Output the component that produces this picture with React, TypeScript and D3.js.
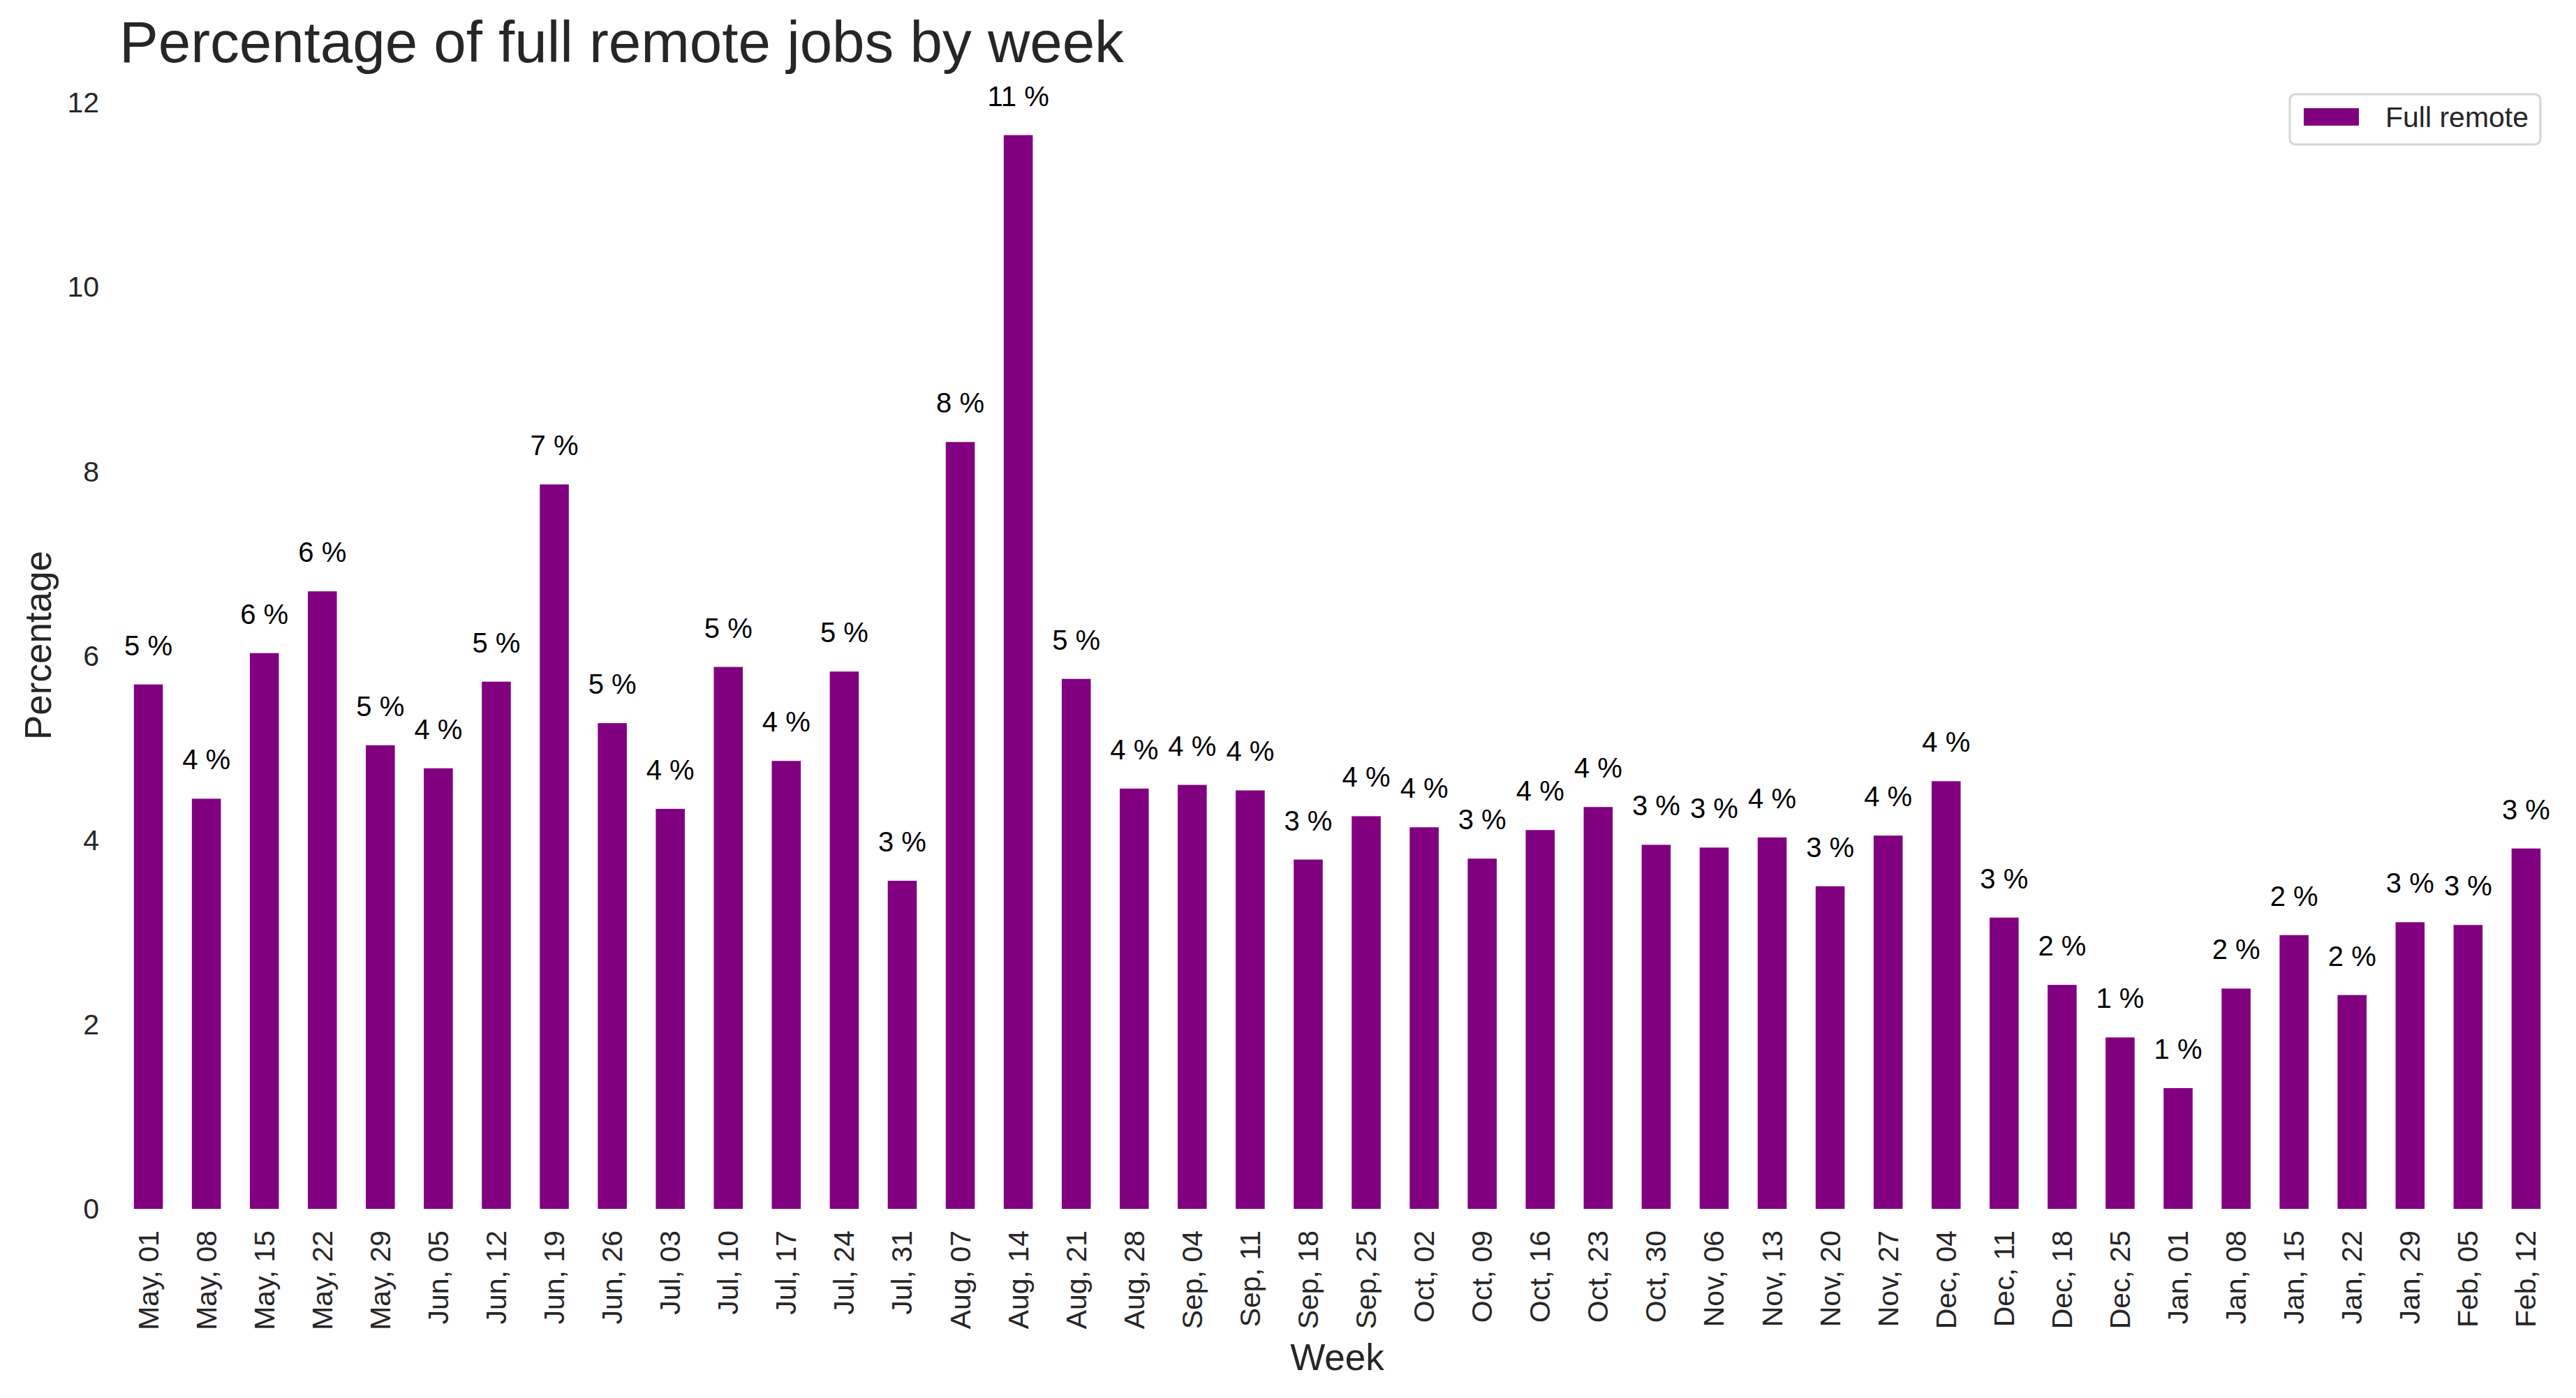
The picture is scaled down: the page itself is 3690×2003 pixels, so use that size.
import React from "react";
import * as d3 from "d3";

const weeks: string[] = [
  "May, 01", "May, 08", "May, 15", "May, 22", "May, 29",
  "Jun, 05", "Jun, 12", "Jun, 19", "Jun, 26",
  "Jul, 03", "Jul, 10", "Jul, 17", "Jul, 24", "Jul, 31",
  "Aug, 07", "Aug, 14", "Aug, 21", "Aug, 28",
  "Sep, 04", "Sep, 11", "Sep, 18", "Sep, 25",
  "Oct, 02", "Oct, 09", "Oct, 16", "Oct, 23", "Oct, 30",
  "Nov, 06", "Nov, 13", "Nov, 20", "Nov, 27",
  "Dec, 04", "Dec, 11", "Dec, 18", "Dec, 25",
  "Jan, 01", "Jan, 08", "Jan, 15", "Jan, 22", "Jan, 29",
  "Feb, 05", "Feb, 12",
];

const fullRemote: number[] = [
  5.69, 4.45, 6.03, 6.70, 5.03,
  4.78, 5.72, 7.86, 5.27,
  4.34, 5.88, 4.86, 5.83, 3.56,
  8.32, 11.65, 5.75, 4.56,
  4.60, 4.54, 3.79, 4.26,
  4.14, 3.80, 4.11, 4.36, 3.95,
  3.92, 4.03, 3.50, 4.05,
  4.64, 3.16, 2.43, 1.86,
  1.31, 2.39, 2.97, 2.32, 3.11,
  3.08, 3.91,
];

const yTicks: number[] = [0, 2, 4, 6, 8, 10, 12];

const W = 3690;
const H = 2003;
const FONT = "'Liberation Sans', Arial, Helvetica, sans-serif";
const BAR = "#800080";
const TXT = "#262626";

export default function App() {
  const left = 171, right = 3660, top = 117, bottom = 1732;
  const yMax = 12.23;
  const x = d3.scaleBand<string>().domain(weeks).range([left, right]).paddingInner(0.5).paddingOuter(0.25);
  const y = d3.scaleLinear().domain([0, yMax]).range([bottom, top]);
  const bw = x.bandwidth();

  return (
    <svg width={W} height={H} style={{ position: "absolute", left: 0, top: 0, background: "#fff" }} fontFamily={FONT}>
      <rect x={0} y={0} width={W} height={H} fill="#fff" />
      {/* title */}
      <text x={left} y={89} fontSize={83.5} fill={TXT}>Percentage of full remote jobs by week</text>

      {/* bars */}
      {fullRemote.map((v, i) => (
        <rect key={"b" + i} x={x(weeks[i])!} y={y(v)} width={bw} height={y(0) - y(v)} fill={BAR} />
      ))}

      {/* value labels */}
      {fullRemote.map((v, i) => (
        <text key={"l" + i} x={x(weeks[i])! + bw / 2} y={y(v) - 42} fontSize={40} fill="#000" textAnchor="middle">
          {`${Math.floor(v)} %`}
        </text>
      ))}

      {/* y ticks */}
      {yTicks.map((t) => (
        <text key={"y" + t} x={142} y={y(t)} fontSize={41} fill={TXT} textAnchor="end" dominantBaseline="central">{t}</text>
      ))}

      {/* x ticks */}
      {weeks.map((w) => (
        <text key={"x" + w} transform={`translate(${x(w)! + bw / 2},1763) rotate(-90)`} fontSize={41} fill={TXT} textAnchor="end" dominantBaseline="central">{w}</text>
      ))}

      {/* axis labels */}
      <text x={(left + right) / 2} y={1963} fontSize={53} fill={TXT} textAnchor="middle">Week</text>
      <text transform={`translate(73,${(top + bottom) / 2}) rotate(-90)`} fontSize={53} fill={TXT} textAnchor="middle">Percentage</text>

      {/* legend */}
      <g>
        <rect x={3280} y={135} width={359} height={72} rx={8} ry={8} fill="#fff" fillOpacity={0.8} stroke="#d6d6d6" strokeWidth={3} />
        <rect x={3300} y={155} width={79} height={25} fill={BAR} />
        <text x={3417} y={182} fontSize={41} fill={TXT}>Full remote</text>
      </g>
    </svg>
  );
}
